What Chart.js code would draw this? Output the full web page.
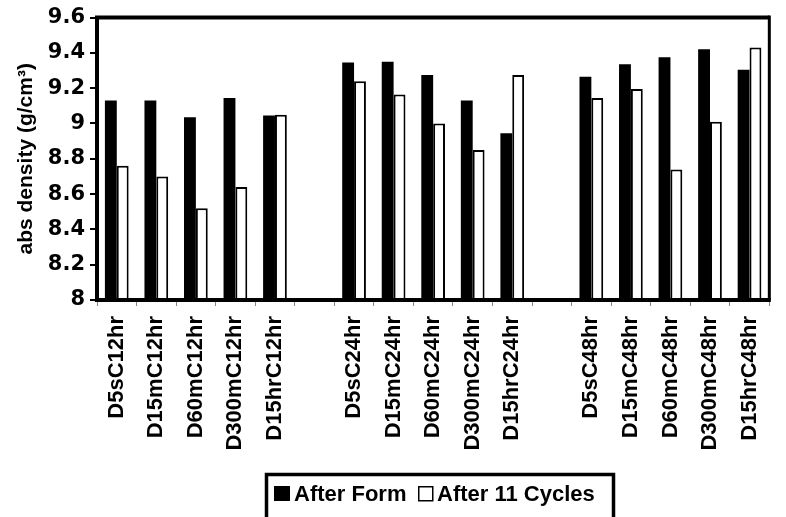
<!DOCTYPE html>
<html>
<head>
<meta charset="utf-8">
<script src="https://cdn.jsdelivr.net/npm/chart.js@4"></script>
<style>
  html, body { margin: 0; padding: 0; background: #fff; }
  #wrap { width: 786px; height: 517px; }
</style>
</head>
<body>
<div id="wrap"><canvas id="chart" width="786" height="517"></canvas></div>
<script>
// categories (empty slots are the gaps between the groups)
const categories = [
  "D5sC12hr", "D15mC12hr", "D60mC12hr", "D300mC12hr", "D15hrC12hr", "",
  "D5sC24hr", "D15mC24hr", "D60mC24hr", "D300mC24hr", "D15hrC24hr", "",
  "D5sC48hr", "D15mC48hr", "D60mC48hr", "D300mC48hr", "D15hrC48hr"
];

const afterForm = [
  9.13, 9.13, 9.035, 9.145, 9.045, null,
  9.345, 9.35, 9.275, 9.13, 8.945, null,
  9.265, 9.335, 9.375, 9.42, 9.305
];

const after11Cycles = [
  8.76, 8.70, 8.52, 8.64, 9.05, null,
  9.24, 9.165, 9.0, 8.85, 9.275, null,
  9.145, 9.195, 8.74, 9.01, 9.43
];

const seriesNames = ["After Form", "After 11 Cycles"];
const yTicks = [8, 8.2, 8.4, 8.6, 8.8, 9, 9.2, 9.4, 9.6];

const FONT = "'Liberation Sans', Arial, sans-serif";

// frame round the plot area
const framePlugin = {
  id: "frame",
  afterDatasetsDraw(chart) {
    const { ctx, chartArea: a } = chart;
    ctx.save();
    ctx.strokeStyle = "#000";
    ctx.lineWidth = 4;
    ctx.beginPath();
    ctx.moveTo(a.right, a.top);
    ctx.lineTo(a.left, a.top);
    ctx.lineTo(a.left, a.bottom);
    ctx.lineTo(a.right + 1.5, a.bottom);
    ctx.stroke();
    ctx.lineWidth = 3;
    ctx.beginPath();
    ctx.moveTo(a.right, a.top - 2);
    ctx.lineTo(a.right, a.bottom);
    ctx.stroke();
    ctx.restore();
  }
};

// boxed legend under the labels
const legendPlugin = {
  id: "boxLegend",
  afterDraw(chart) {
    const ctx = chart.ctx;
    const ds = chart.data.datasets;
    ctx.save();
    ctx.strokeStyle = "#000";
    ctx.lineWidth = 3.5;
    ctx.strokeRect(266.5, 474.5, 347, 60);
    ctx.font = "bold 22px " + FONT;
    ctx.textBaseline = "alphabetic";
    ctx.fillStyle = "#000";

    // item 1
    ctx.fillStyle = ds[0].backgroundColor;
    ctx.fillRect(274, 486, 16, 15);
    ctx.fillStyle = "#000";
    ctx.fillText(ds[0].label, 294, 501);

    // item 2
    ctx.fillStyle = "#fff";
    ctx.fillRect(418, 486, 15, 15);
    ctx.lineWidth = 1.5;
    ctx.strokeRect(418.75, 486.75, 14, 14);
    ctx.fillStyle = "#000";
    ctx.fillText(ds[1].label, 437, 501);
    ctx.restore();
  }
};

new Chart(document.getElementById("chart"), {
  type: "bar",
  data: {
    labels: categories,
    datasets: [
      {
        label: seriesNames[0],
        data: afterForm,
        backgroundColor: "#000",
        borderColor: "#000",
        borderWidth: 0
      },
      {
        label: seriesNames[1],
        data: after11Cycles,
        backgroundColor: "#fff",
        borderColor: "#000",
        borderWidth: 2
      }
    ]
  },
  options: {
    responsive: false,
    animation: false,
    layout: { padding: { top: 15, right: 2, left: 0, bottom: 0 } },
    categoryPercentage: 0.6,
    barPercentage: 1,
    plugins: {
      legend: { display: false },
      tooltip: { enabled: false }
    },
    scales: {
      x: {
        offset: true,
        grid: {
          offset: true,
          drawOnChartArea: false,
          drawTicks: true,
          tickLength: 6,
          color: "#888",
          lineWidth: 1
        },
        border: { display: false },
        ticks: {
          autoSkip: false,
          minRotation: 90,
          maxRotation: 90,
          padding: 10,
          color: "#000",
          font: { family: FONT, size: 22, weight: "bold" }
        },
        afterFit(scale) { scale.height = 217; }
      },
      y: {
        min: 8,
        max: 9.6,
        afterBuildTicks(scale) {
          scale.ticks = yTicks.map(v => ({ value: v }));
        },
        grid: {
          drawOnChartArea: false,
          drawTicks: true,
          tickLength: 7,
          color: "#000",
          lineWidth: 2
        },
        border: { display: false },
        ticks: {
          padding: 5,
          color: "#000",
          font: { family: "'DejaVu Sans', sans-serif", size: 21, weight: "bold" },
          callback: v => String(+v.toFixed(1))
        },
        title: {
          display: true,
          text: "abs density (g/cm³)",
          color: "#000",
          padding: { top: 14, bottom: 0 },
          font: { family: FONT, size: 21, weight: "bold" }
        },
        afterFit(scale) { scale.width = 97; }
      }
    }
  },
  plugins: [framePlugin, legendPlugin]
});
</script>
</body>
</html>
